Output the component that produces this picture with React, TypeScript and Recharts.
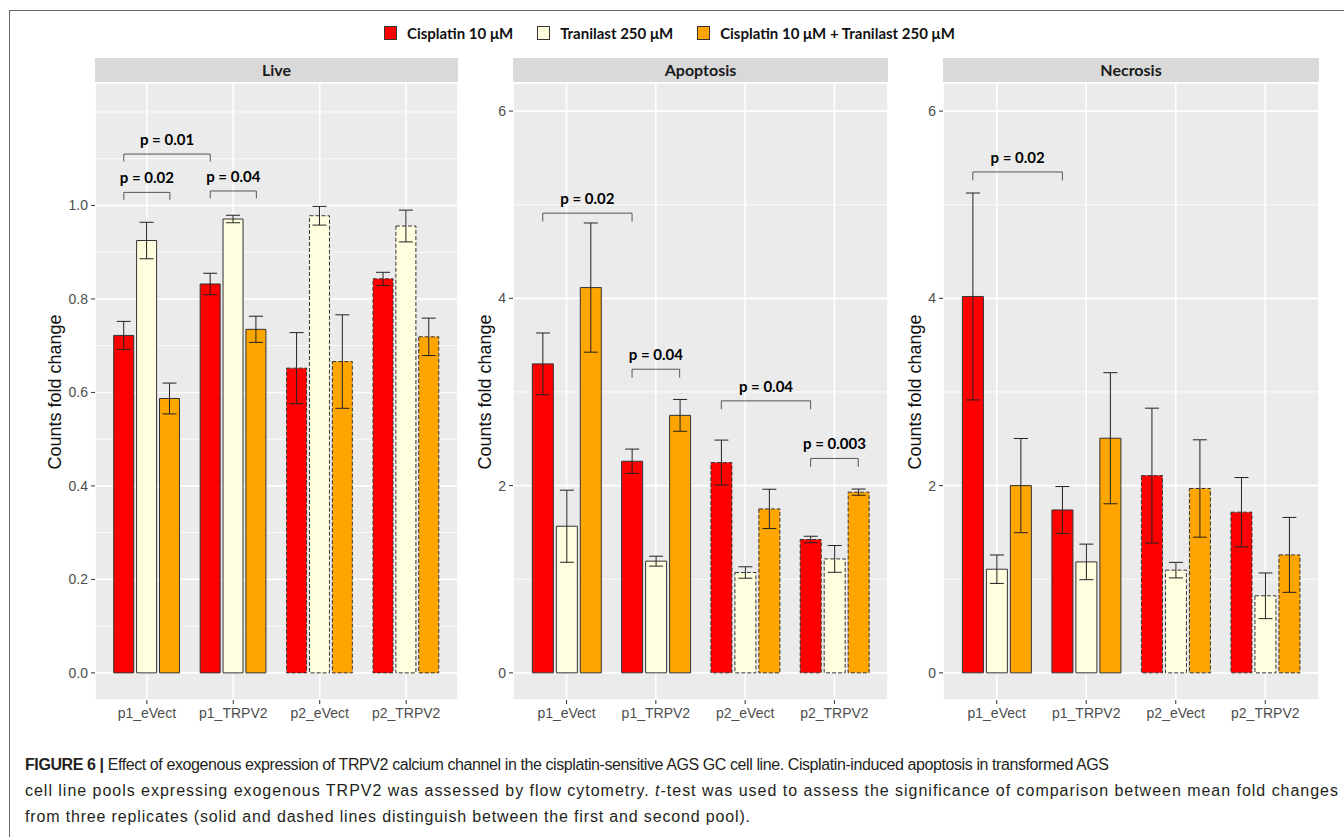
import React from 'react';
import { BarChart, Bar, XAxis, YAxis, CartesianGrid, ErrorBar, Cell, ReferenceLine, ReferenceDot } from 'recharts';

// groups on the x axis (p2 pools are drawn dashed)
const groups = ['p1_eVect', 'p1_TRPV2', 'p2_eVect', 'p2_TRPV2'];
const seriesNames = ['Cisplatin 10 μM', 'Tranilast 250 μM', 'Cisplatin 10 μM + Tranilast 250 μM'];
const seriesColors = ['#FF0000', '#FFFFE0', '#FFA500'];

// Live
const liveCis = [0.722, 0.832, 0.652, 0.843];
const liveCisErr = [0.03, 0.023, 0.076, 0.014];
const liveTra = [0.925, 0.971, 0.978, 0.956];
const liveTraErr = [0.039, 0.008, 0.02, 0.034];
const liveCom = [0.587, 0.735, 0.666, 0.719];
const liveComErr = [0.033, 0.028, 0.1, 0.04];

// Apoptosis
const apoCis = [3.3, 2.26, 2.246, 1.424];
const apoCisErr = [0.33, 0.13, 0.24, 0.035];
const apoTra = [1.566, 1.193, 1.072, 1.217];
const apoTraErr = [0.385, 0.053, 0.061, 0.143];
const apoCom = [4.115, 2.75, 1.751, 1.93];
const apoComErr = [0.69, 0.17, 0.21, 0.033];

// Necrosis
const necCis = [4.02, 1.74, 2.107, 1.716];
const necCisErr = [1.105, 0.25, 0.72, 0.37];
const necTra = [1.107, 1.185, 1.097, 0.823];
const necTraErr = [0.152, 0.19, 0.083, 0.244];
const necCom = [2.0, 2.506, 1.969, 1.26];
const necComErr = [0.503, 0.7, 0.52, 0.4];

// y axis breaks
const liveTicks = [0, 0.2, 0.4, 0.6, 0.8, 1.0];
const liveMinor = [0.1, 0.3, 0.5, 0.7, 0.9, 1.1, 1.2];
const foldTicks = [0, 2, 4, 6];
const foldMinor = [1, 3, 5];

// significance brackets: [group, bar] -> [group, bar]
const liveBrackets = [
  { from: [0, 0], to: [1, 0], y: 1.11, label: 'p = 0.01' },
  { from: [0, 0], to: [0, 2], y: 1.028, label: 'p = 0.02' },
  { from: [1, 0], to: [1, 2], y: 1.031, label: 'p = 0.04' },
];
const apoBrackets = [
  { from: [0, 0], to: [1, 0], y: 4.91, label: 'p = 0.02' },
  { from: [1, 0], to: [1, 2], y: 3.243, label: 'p = 0.04' },
  { from: [2, 0], to: [3, 0], y: 2.905, label: 'p = 0.04' },
  { from: [3, 0], to: [3, 2], y: 2.29, label: 'p = 0.003' },
];
const necBrackets = [
  { from: [0, 0], to: [1, 0], y: 5.35, label: 'p = 0.02' },
];

const DODGE = 0.8 / 3;
const barX = (g: number, b: number) => g + 1 + (b - 1) * DODGE;

const tickStyle = { fill: '#4D4D4D', fontSize: 14, fontFamily: 'Liberation Sans' };

const Panel = ({ title, left, yw, plotW, domain, ticks, minor, fmt, cis, cisErr, tra, traErr, com, comErr, brackets, tip }: any) => {
  const rows = groups.map((g, i) => ({
    group: g,
    idx: i + 1,
    cis: cis[i], cisErr: cisErr[i],
    tra: tra[i], traErr: traErr[i],
    com: com[i], comErr: comErr[i],
  }));
  const pad = plotW / 42;
  const keys = ['cis', 'tra', 'com'];

  return (
    <div style={{ position: 'absolute', left, top: 58, width: yw + plotW, height: 25 + 657 }}>
      <div style={{
        position: 'absolute', left: yw, top: 0, width: plotW, height: 24, background: '#D9D9D9',
        textAlign: 'center', lineHeight: '24px', fontFamily: 'Lato', fontWeight: 700, fontSize: 16, color: '#1A1A1A'
      }}>{title}</div>
      <div style={{
        position: 'absolute', left: 15, top: 25 + 308.5, transform: 'translate(-50%, -50%) rotate(-90deg)',
        whiteSpace: 'nowrap', fontFamily: 'Liberation Sans', fontSize: 18, color: '#111'
      }}>Counts fold change</div>
      <div style={{ position: 'absolute', left: 0, top: 25 }}>
        <BarChart width={yw + plotW} height={657} data={rows} margin={{ top: 0, right: 0, bottom: 0, left: 0 }}
          barCategoryGap="11.67%" barGap="3.33%">
          <CartesianGrid fill="#EBEBEB" stroke="#FFFFFF" strokeWidth={1.6} />
          <CartesianGrid horizontalValues={minor} vertical={false} stroke="#FFFFFF" strokeWidth={0.8} />
          <XAxis dataKey="group" type="category" padding={{ left: pad, right: pad }} height={40} interval={0}
            axisLine={false} tickLine={{ stroke: '#333' }} tickSize={4} tickMargin={4} tick={tickStyle} />
          <XAxis xAxisId="pos" type="number" dataKey="idx" domain={[0.4, 4.6]} allowDataOverflow hide />
          <YAxis type="number" domain={domain} ticks={ticks} allowDataOverflow interval={0} tickFormatter={fmt}
            width={yw} axisLine={false} tickLine={{ stroke: '#333' }} tickSize={4} tickMargin={3} tick={tickStyle} />
          {keys.map((k, s) => (
            <Bar key={k} dataKey={k} name={seriesNames[s]} fill={seriesColors[s]} stroke="#333" strokeWidth={1}
              isAnimationActive={false}>
              {rows.map((r) => (
                <Cell key={r.group} fill={seriesColors[s]} stroke="#333"
                  strokeDasharray={r.group.startsWith('p2') ? '4 2' : undefined} />
              ))}
              <ErrorBar dataKey={k + 'Err'} width={7} stroke="#222" strokeWidth={1} />
            </Bar>
          ))}
          {brackets.map((b: any, i: number) => {
            const x1 = barX(b.from[0], b.from[1]);
            const x2 = barX(b.to[0], b.to[1]);
            return [
              <ReferenceLine key={'h' + i} xAxisId="pos" ifOverflow="visible" stroke="#555" strokeWidth={1}
                segment={[{ x: x1, y: b.y }, { x: x2, y: b.y }]} />,
              <ReferenceLine key={'l' + i} xAxisId="pos" ifOverflow="visible" stroke="#555" strokeWidth={1}
                segment={[{ x: x1, y: b.y }, { x: x1, y: b.y - tip }]} />,
              <ReferenceLine key={'r' + i} xAxisId="pos" ifOverflow="visible" stroke="#555" strokeWidth={1}
                segment={[{ x: x2, y: b.y }, { x: x2, y: b.y - tip }]} />,
              <ReferenceDot key={'t' + i} xAxisId="pos" x={(x1 + x2) / 2} y={b.y} r={0} fill="none" stroke="none"
                ifOverflow="visible"
                label={{ value: b.label, position: 'top', offset: 9, fill: '#000', fontSize: 15, fontWeight: 700, fontFamily: 'Lato' }} />,
            ];
          })}
        </BarChart>
      </div>
    </div>
  );
};

const App = () => {
  return (
    <div style={{ position: 'absolute', left: 0, top: 0, width: 1344, height: 837, background: '#fff', overflow: 'hidden' }}>
      {/* figure frame */}
      <div style={{ position: 'absolute', left: 9, top: 10, width: 1400, height: 900, borderTop: '1.5px solid #666', borderLeft: '1.5px solid #666' }} />

      {/* legend */}
      <div style={{ position: 'absolute', left: 384, top: 25, display: 'flex', alignItems: 'center', height: 16, fontFamily: 'Lato', fontWeight: 700, fontSize: 15, color: '#111' }}>
        {seriesNames.map((n, i) => (
          <div key={n} style={{ display: 'flex', alignItems: 'center', marginRight: 24 }}>
            <div style={{ width: 11, height: 12, background: seriesColors[i], border: '1px solid #333', marginRight: 10 }} />
            <span style={{ whiteSpace: 'nowrap' }}>{n}</span>
          </div>
        ))}
      </div>

      <Panel title="Live" left={40} yw={55} plotW={363} domain={[-0.058, 1.262]} ticks={liveTicks} minor={liveMinor}
        fmt={(v: number) => v.toFixed(1)} cis={liveCis} cisErr={liveCisErr} tra={liveTra} traErr={liveTraErr}
        com={liveCom} comErr={liveComErr} brackets={liveBrackets} tip={0.016} />
      <Panel title="Apoptosis" left={470} yw={43} plotW={375} domain={[-0.29, 6.3]} ticks={foldTicks} minor={foldMinor}
        fmt={(v: number) => String(v)} cis={apoCis} cisErr={apoCisErr} tra={apoTra} traErr={apoTraErr}
        com={apoCom} comErr={apoComErr} brackets={apoBrackets} tip={0.09} />
      <Panel title="Necrosis" left={900} yw={43} plotW={376} domain={[-0.29, 6.3]} ticks={foldTicks} minor={foldMinor}
        fmt={(v: number) => String(v)} cis={necCis} cisErr={necCisErr} tra={necTra} traErr={necTraErr}
        com={necCom} comErr={necComErr} brackets={necBrackets} tip={0.09} />

      {/* caption */}
      <svg style={{ position: 'absolute', left: 0, top: 740 }} width={1344} height={97}>
        <g fontFamily="Liberation Sans" fontSize={16} fill="#231F20">
          <text x={25} y={30} textLength={1084} lengthAdjust="spacing">
            <tspan fontWeight="bold">FIGURE 6 | </tspan>Effect of exogenous expression of TRPV2 calcium channel in the cisplatin-sensitive AGS GC cell line. Cisplatin-induced apoptosis in transformed AGS
          </text>
          <text x={25} y={56} textLength={1313} lengthAdjust="spacing">
            cell line pools expressing exogenous TRPV2 was assessed by flow cytometry. <tspan fontStyle="italic">t</tspan>-test was used to assess the significance of comparison between mean fold changes
          </text>
          <text x={25} y={82} textLength={725} lengthAdjust="spacing">
            from three replicates (solid and dashed lines distinguish between the first and second pool).
          </text>
        </g>
      </svg>
    </div>
  );
};

export default App;
